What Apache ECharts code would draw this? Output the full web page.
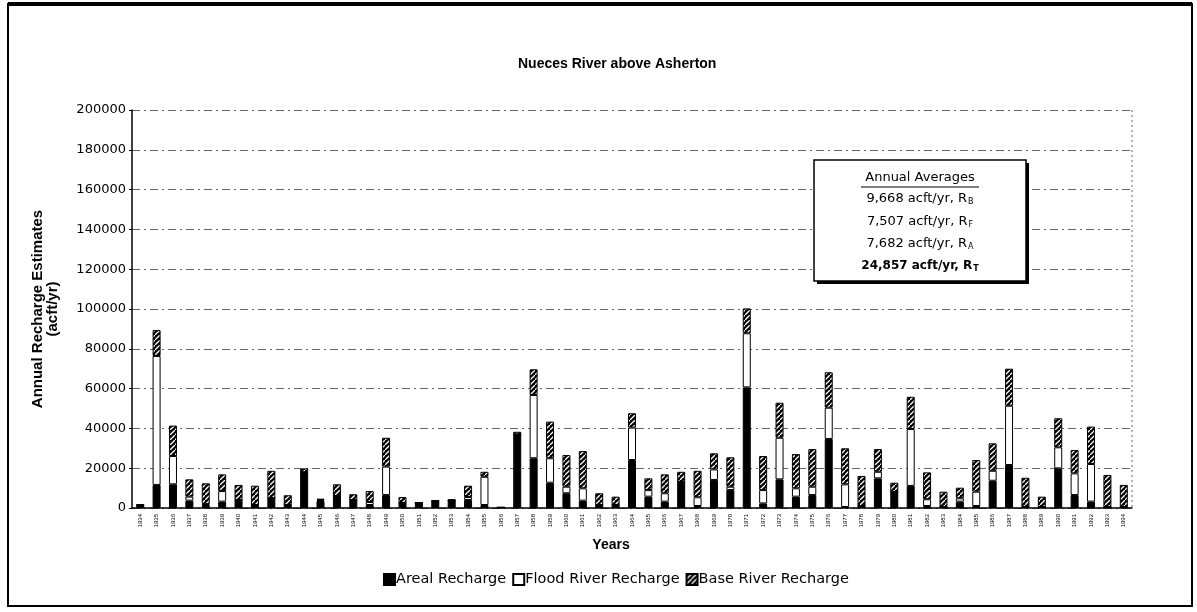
<!DOCTYPE html>
<html>
<head>
<meta charset="utf-8">
<script src="https://cdn.jsdelivr.net/npm/echarts@6/dist/echarts.min.js"></script>
<style>
html,body{margin:0;padding:0;background:#fff;}
#chart{width:1197px;height:612px;}
</style>
</head>
<body>
<div id="chart"></div>
<script>
const years = ['1934','1935','1936','1937','1938','1939','1940','1941','1942','1943',
  '1944','1945','1946','1947','1948','1949','1950','1951','1952','1953',
  '1954','1955','1956','1957','1958','1959','1960','1961','1962','1963',
  '1964','1965','1966','1967','1968','1969','1970','1971','1972','1973',
  '1974','1975','1976','1977','1978','1979','1980','1981','1982','1983',
  '1984','1985','1986','1987','1988','1989','1990','1991','1992','1993','1994'];

const areal = [1500, 11600, 11900, 3700, 1500, 3200, 4000, 1500, 5000, 1500,
  18000, 3500, 6000, 4000, 1500, 6500, 2500, 2700, 3500, 3800,
  4000, 1500, 300, 37000, 25000, 12700, 7400, 3700, 1500, 1500,
  24100, 5700, 3200, 13200, 1000, 14100, 9000, 60600, 2300, 14400,
  5700, 6500, 34700, 500, 1000, 14900, 8000, 11100, 1000, 500,
  3200, 1000, 13700, 21600, 500, 500, 19900, 6500, 3200, 500, 500];

const flood = [0, 64800, 14200, 2000, 500, 5300, 0, 0, 0, 0,
  0, 500, 0, 0, 1500, 14300, 0, 0, 0, 0,
  1500, 14200, 0, 0, 31800, 12300, 3300, 6200, 0, 0,
  16300, 3300, 4200, 0, 4400, 5300, 1700, 27200, 6700, 20900,
  4200, 4200, 15700, 11400, 0, 3300, 0, 28600, 3400, 0,
  1700, 7200, 5000, 29800, 0, 0, 10600, 10900, 18900, 0, 0];

const base = [500, 13000, 15300, 8700, 10400, 8400, 7600, 9700, 13700, 4900,
  1900, 700, 5900, 2900, 5500, 14500, 3000, 0, 500, 600,
  5700, 2500, 0, 1300, 12900, 18400, 15900, 18700, 5900, 4200,
  7200, 5900, 9500, 5000, 13300, 8100, 14800, 12500, 17100, 17600,
  17200, 18900, 17800, 18100, 15100, 11400, 4700, 16200, 13500, 7700,
  5300, 15900, 13800, 18600, 14700, 5200, 14600, 11700, 18800, 16100, 11100];

const seriesNames = ['Areal Recharge', 'Flood River Recharge', 'Base River Recharge'];
const avgTitle = 'Annual Averages';
const avgLines = [
  ['9,668 acft/yr, R', 'B'],
  ['7,507 acft/yr, R', 'F'],
  ['7,682 acft/yr, R', 'A']
];
const avgTotal = ['24,857 acft/yr, R', 'T'];

// hatch pattern
const pc = document.createElement('canvas');
pc.width = 5; pc.height = 5;
const g = pc.getContext('2d');
g.fillStyle = '#000'; g.fillRect(0, 0, 5, 5);
g.strokeStyle = '#fff'; g.lineWidth = 1.3;
g.beginPath();
g.moveTo(-1, 6); g.lineTo(6, -1);
g.stroke();
const hatch = {image: pc, repeat: 'repeat'};

const FONT = '"Liberation Sans", Arial, sans-serif';
const WFONT = '"DejaVu Sans", "Liberation Sans", sans-serif';
const chart = echarts.init(document.getElementById('chart'), null, {renderer: 'canvas'});

const boxX = 814, boxY = 160, boxW = 212, boxH = 121, cx = boxX + boxW / 2;
const rich = {
  n: {fontSize: 13, fontFamily: WFONT, color: '#000'},
  s: {fontSize: 8, fontFamily: WFONT, color: '#000', padding: [6, 0, 0, 1]},
  nb: {fontSize: 12, fontFamily: WFONT, color: '#000', fontWeight: 'bold'},
  sb: {fontSize: 8, fontFamily: WFONT, color: '#000', fontWeight: 'bold', padding: [6, 0, 0, 1]}
};
const boxTexts = [
  {type: 'text', z: 60, x: cx, y: 178, style: {text: avgTitle, fill: '#000', font: '13px ' + WFONT, textAlign: 'center', textVerticalAlign: 'middle'}},
  {type: 'line', z: 60, shape: {x1: cx - 59, y1: 187, x2: cx + 59, y2: 187}, style: {stroke: '#000', lineWidth: 1.2}}
];
avgLines.forEach((l, i) => {
  boxTexts.push({type: 'text', z: 60, x: cx, y: 199 + i * 22.5, style: {text: '{n|' + l[0] + '}{s|' + l[1] + '}', rich: rich, textAlign: 'center', textVerticalAlign: 'middle'}});
});
boxTexts.push({type: 'text', z: 60, x: cx, y: 266, style: {text: '{nb|' + avgTotal[0] + '}{sb|' + avgTotal[1] + '}', rich: rich, textAlign: 'center', textVerticalAlign: 'middle'}});

const barStyle = {borderColor: '#000', borderWidth: 1};

chart.setOption({
  animation: false,
  backgroundColor: '#fff',
  textStyle: {fontFamily: FONT},
  title: {
    text: 'Nueces River above Asherton',
    left: 513, top: 52,
    textStyle: {fontSize: 14, fontWeight: 'bold', color: '#000', fontFamily: FONT}
  },
  legend: {
    bottom: 20, left: 378,
    itemWidth: 11, itemHeight: 11, itemGap: 6,
    icon: 'rect',
    textStyle: {fontSize: 14.5, color: '#000', fontFamily: WFONT, padding: [0, 0, 0, -4]},
    data: seriesNames
  },
  grid: {left: 132, right: 65, top: 110, bottom: 104},
  xAxis: {
    type: 'category', data: years,
    axisLine: {lineStyle: {color: '#000', width: 1.5}},
    axisTick: {show: false},
    axisLabel: {rotate: 90, interval: 0, fontSize: 6, color: '#000', margin: 6}
  },
  yAxis: {
    type: 'value', min: 0, max: 200000, interval: 20000,
    name: 'Annual Recharge Estimates\n(acft/yr)', nameLocation: 'middle', nameGap: 72,
    nameTextStyle: {fontSize: 15, fontWeight: 'bold', color: '#000', lineHeight: 15, fontFamily: FONT},
    axisLine: {show: true, lineStyle: {color: '#000', width: 1.5}},
    axisTick: {show: true, length: 3, lineStyle: {color: '#000'}},
    axisLabel: {fontSize: 13, color: '#000', margin: 6, fontFamily: WFONT, formatter: v => String(v)},
    splitLine: {lineStyle: {color: '#666', width: 1, type: [8, 4, 2, 4]}}
  },
  series: [
    {name: seriesNames[0], type: 'bar', stack: 'r', data: areal, barWidth: 8,
      itemStyle: Object.assign({color: '#000'}, barStyle)},
    {name: seriesNames[1], type: 'bar', stack: 'r', data: flood, barWidth: 8,
      itemStyle: Object.assign({color: '#fff'}, barStyle)},
    {name: seriesNames[2], type: 'bar', stack: 'r', data: base, barWidth: 8,
      itemStyle: Object.assign({color: hatch}, barStyle)}
  ],
  graphic: [
    {type: 'text', z: 60, x: 611, y: 545, style: {text: 'Years', fill: '#000', font: 'bold 14px ' + FONT, textAlign: 'center', textVerticalAlign: 'middle'}},
    {type: 'rect', z: 100, shape: {x: 8, y: 4, width: 1184, height: 602}, style: {fill: 'none', stroke: '#000', lineWidth: 2}, silent: true},
    {type: 'line', z: 100, shape: {x1: 8, y1: 4, x2: 1192, y2: 4}, style: {stroke: '#000', lineWidth: 4}, silent: true},
    {type: 'line', shape: {x1: 1132, y1: 110, x2: 1132, y2: 508}, style: {stroke: '#666', lineWidth: 1, lineDash: [2, 3]}, silent: true},
    {type: 'rect', z: 50, shape: {x: boxX + 3, y: boxY + 3, width: boxW, height: boxH}, style: {fill: '#000'}},
    {type: 'rect', z: 51, shape: {x: boxX, y: boxY, width: boxW, height: boxH}, style: {fill: '#fff', stroke: '#000', lineWidth: 1.5}},
    {type: 'group', z: 60, children: boxTexts}
  ]
});
</script>
</body>
</html>
